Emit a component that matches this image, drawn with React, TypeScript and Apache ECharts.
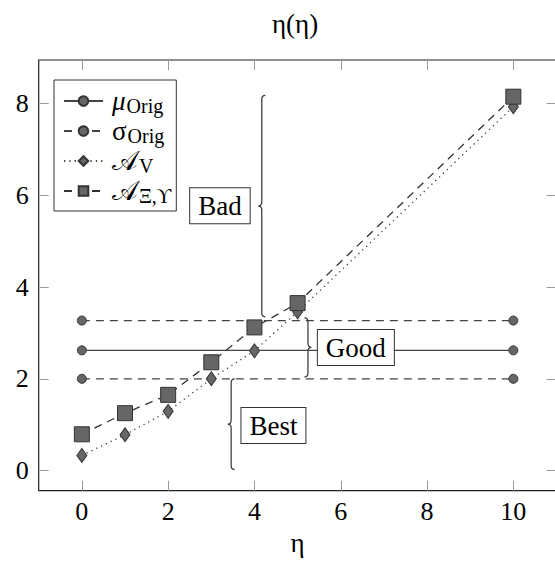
import React, { useEffect, useRef } from 'react';
import * as echarts from 'echarts';

const xMu = [0, 10];
const muOrig = [2.62, 2.62];
const sigmaUpper = [3.27, 3.27];
const sigmaLower = [2.0, 2.0];
const xA = [0, 1, 2, 3, 4, 5, 10];
const aV = [0.33, 0.78, 1.29, 2.0, 2.61, 3.46, 7.93];
const aXi = [0.79, 1.25, 1.65, 2.36, 3.12, 3.65, 8.15];
const xTicks = [0, 2, 4, 6, 8, 10];
const yTicks = [0, 2, 4, 6, 8];
// brace: x, yFrom, yTo, direction (-1 tip left, 1 tip right)
const braceX = [4.17, 5.24, 3.46];
const braceFrom = [3.35, 2.04, 0.02];
const braceTo = [8.18, 3.33, 2.0];
const braceDir = [-1, 1, -1];
const boxLabels = ['Bad', 'Good', 'Best'];
const boxX = [3.2, 6.35, 4.44];
const boxY = [5.77, 2.68, 0.98];

const seriesNames = ['μ_Orig', 'σ_Orig', '𝒜_V', '𝒜_Ξ,ϒ'];

const FONT = 'Liberation Serif';

const pair = (xs: number[], ys: number[]) => xs.map((x, i) => [x, ys[i]]);

export default function App() {
  const ref = useRef<HTMLDivElement>(null);
  useEffect(() => {
    if (!ref.current) return;
    const chart = echarts.init(ref.current, null, { renderer: 'svg' });
    const markerStyle = { color: '#666', borderColor: '#333', borderWidth: 1 };
    const tickStyle = { show: true, inside: true, length: 10, lineStyle: { color: '#999', width: 1 } };
    const hiddenLine = { show: false, onZero: false };
    const option: any = {
      animation: false,
      textStyle: { fontFamily: FONT },
      title: {
        text: 'η(η)', left: 272, top: 10, padding: 0,
        textStyle: { fontFamily: FONT, fontSize: 27, fontWeight: 'normal', color: '#000' },
      },
      grid: {
        left: 38.7, top: 60, right: -1.5, bottom: 72.3,
        show: true, borderColor: '#222', borderWidth: 1.2, backgroundColor: 'transparent',
        outerBoundsMode: 'none',
      },
      legend: {
        orient: 'vertical', left: 54, top: 80,
        data: seriesNames,
        itemWidth: 39, itemHeight: 12, itemGap: 0,
        padding: [6, 5, 5, 9],
        borderColor: '#333', borderWidth: 1, backgroundColor: '#fff',
        selectedMode: false,
        formatter: (name: string) => {
          const [a, b] = name.split('_');
          const style = a === 'μ' ? 'mi' : 'mu';
          return `{${style}|${a}}{s|${b}}`;
        },
        textStyle: {
          fontFamily: FONT, color: '#000', fontSize: 24,
          rich: {
            mi: { fontFamily: FONT, fontSize: 27, fontStyle: 'italic', color: '#000', lineHeight: 30, padding: [0, 0, 0, 4] },
            mu: { fontFamily: FONT, fontSize: 27, color: '#000', lineHeight: 30, padding: [0, 0, 0, 4] },
            s: { fontFamily: FONT, fontSize: 20, color: '#000', lineHeight: 20, padding: [10, 0, 0, 1] },
          },
        },
      },
      xAxis: [
        {
          type: 'value', min: -1, max: 11, position: 'bottom',
          axisLine: hiddenLine, splitLine: { show: false },
          axisTick: { ...tickStyle, customValues: xTicks },
          axisLabel: { customValues: xTicks, fontFamily: FONT, fontSize: 26, color: '#000', margin: 8 },
          name: 'η', nameLocation: 'middle', nameGap: 37,
          nameTextStyle: { fontFamily: FONT, fontSize: 27, color: '#000' },
        },
        {
          type: 'value', min: -1, max: 11, position: 'top',
          axisLine: hiddenLine, splitLine: { show: false },
          axisTick: { ...tickStyle, customValues: xTicks },
          axisLabel: { show: false },
        },
      ],
      yAxis: [
        {
          type: 'value', min: -0.44, max: 8.95, position: 'left',
          axisLine: hiddenLine, splitLine: { show: false },
          axisTick: { ...tickStyle, customValues: yTicks },
          axisLabel: { customValues: yTicks, fontFamily: FONT, fontSize: 26, color: '#000', margin: 10 },
        },
        {
          type: 'value', min: -0.44, max: 8.95, position: 'right',
          axisLine: hiddenLine, splitLine: { show: false },
          axisTick: { ...tickStyle, customValues: yTicks },
          axisLabel: { show: false },
        },
      ],
      series: [
        {
          name: seriesNames[0], type: 'line', data: pair(xMu, muOrig),
          symbol: 'circle', symbolSize: 9,
          lineStyle: { color: '#444', width: 1.3, type: 'solid' }, itemStyle: markerStyle, z: 3,
        },
        {
          name: seriesNames[1], type: 'line', data: pair(xMu, sigmaUpper),
          symbol: 'circle', symbolSize: 9,
          lineStyle: { color: '#444', width: 1.3, type: [8, 6] }, itemStyle: markerStyle, z: 3,
        },
        {
          name: seriesNames[1], type: 'line', data: pair(xMu, sigmaLower),
          symbol: 'circle', symbolSize: 9,
          lineStyle: { color: '#444', width: 1.3, type: [8, 6] }, itemStyle: markerStyle, z: 3,
        },
        {
          name: seriesNames[2], type: 'line', data: pair(xA, aV),
          symbol: 'diamond', symbolSize: [10, 14],
          lineStyle: { color: '#444', width: 1.3, type: [1.3, 4] }, itemStyle: markerStyle, z: 4,
        },
        {
          name: seriesNames[3], type: 'line', data: pair(xA, aXi),
          symbol: 'rect', symbolSize: 15,
          lineStyle: { color: '#333', width: 1.3, type: [8, 6] }, itemStyle: markerStyle, z: 5,
        },
        {
          type: 'custom', name: 'braces', z: 6,
          data: braceX.map((x, i) => [x, braceFrom[i], braceTo[i], braceDir[i]]),
          renderItem: (params: any, api: any) => {
            const x = api.value(0), y1 = api.value(1), y2 = api.value(2), d = api.value(3);
            const pTop = api.coord([x, y2]);
            const pBot = api.coord([x, y1]);
            const xb = pTop[0], yt = pTop[1], yb = pBot[1], ym = (yt + yb) / 2;
            const h = 3.5, r = 4;
            const xe = xb - d * h, xt = xb + d * h;
            const p = `M${xe},${yt} Q${xb},${yt} ${xb},${yt + r} L${xb},${ym - r} Q${xb},${ym} ${xt},${ym} Q${xb},${ym} ${xb},${ym + r} L${xb},${yb - r} Q${xb},${yb} ${xe},${yb}`;
            return { type: 'path', shape: { pathData: p }, style: { fill: 'none', stroke: '#333', lineWidth: 1.2 } };
          },
        },
        {
          type: 'custom', name: 'labels', z: 7,
          data: boxX.map((x, i) => [x, boxY[i]]),
          renderItem: (params: any, api: any) => {
            const p = api.coord([api.value(0), api.value(1)]);
            return {
              type: 'text', x: p[0], y: p[1],
              style: {
                text: boxLabels[params.dataIndex], fontFamily: FONT, fontSize: 27, fill: '#000',
                align: 'center', verticalAlign: 'middle',
                backgroundColor: '#fff', borderColor: '#333', borderWidth: 1, padding: [5, 8, 3, 8],
              },
            };
          },
        },
      ],
    };
    chart.setOption(option);
    return () => chart.dispose();
  }, []);
  return <div ref={ref} style={{ position: 'absolute', left: 0, top: 0, width: 555, height: 563 }} />;
}
